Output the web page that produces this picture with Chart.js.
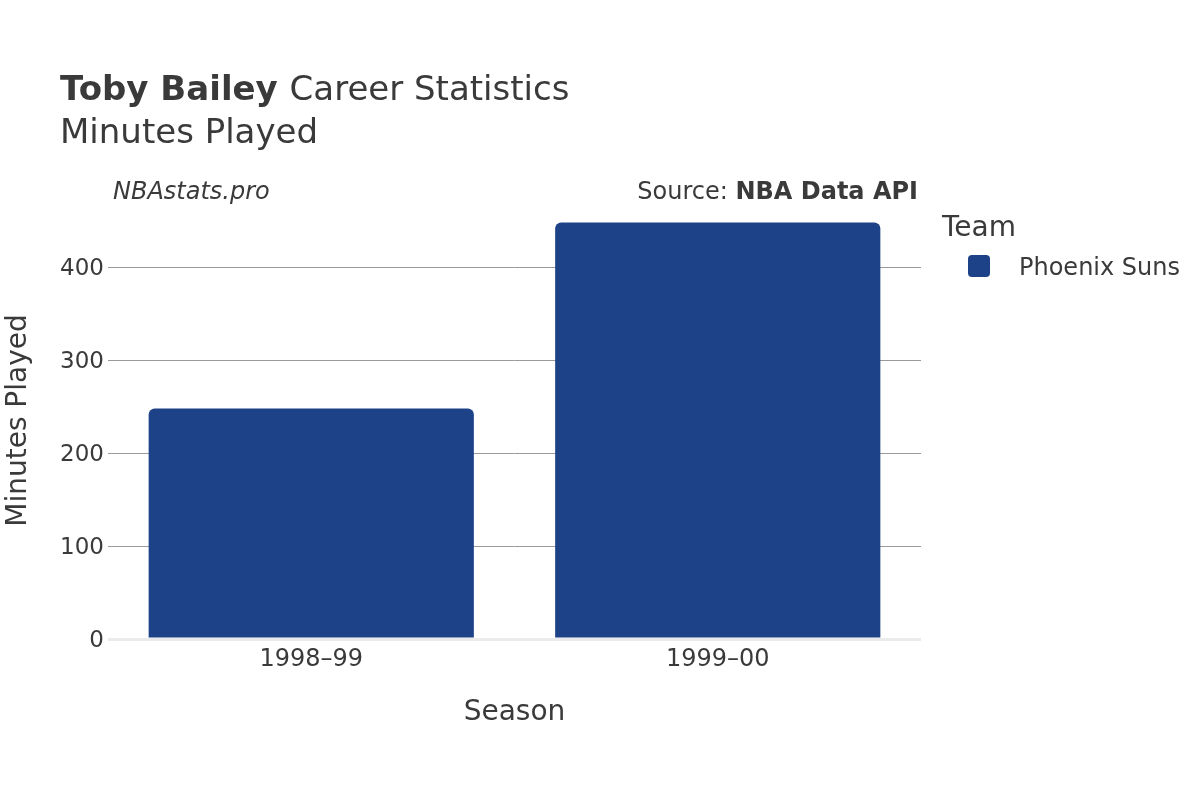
<!DOCTYPE html>
<html>
<head>
<meta charset="utf-8">
<script src="https://cdn.jsdelivr.net/npm/chart.js@4/dist/chart.umd.min.js"></script>
<style>
  html, body { margin: 0; padding: 0; background: #fff; }
  #wrap { width: 1200px; height: 800px; }
</style>
</head>
<body>
<div id="wrap"><canvas id="minutes-chart" width="1200" height="800"></canvas></div>
<script>
// Data
const seasons = ['1998–99', '1999–00'];
const minutesPlayed = [248, 448];
const teamName = 'Phoenix Suns';
const yTicks = [0, 100, 200, 300, 400];

const barColor = '#1d4288';
const textColor = '#3a3a3a';
const fontFamily = '"DejaVu Sans", sans-serif';

// Titles, credit line and legend drawn on top of the canvas
const headerPlugin = {
  id: 'header',
  afterDraw(chart) {
    const ctx = chart.ctx;
    ctx.save();
    ctx.fillStyle = textColor;
    ctx.textBaseline = 'alphabetic';
    ctx.textAlign = 'left';

    ctx.font = 'bold 34px ' + fontFamily;
    ctx.fillText('Toby Bailey', 60, 100);
    const w = ctx.measureText('Toby Bailey ').width;
    ctx.font = '34px ' + fontFamily;
    ctx.fillText('Career Statistics', 60 + w, 100);
    ctx.fillText('Minutes Played', 60, 143);

    ctx.font = 'italic 24px ' + fontFamily;
    ctx.fillText('NBAstats.pro', 113, 199);

    ctx.textAlign = 'right';
    ctx.font = 'bold 24px ' + fontFamily;
    ctx.fillText('NBA Data API', 918, 199);
    const bw = ctx.measureText('NBA Data API').width;
    ctx.font = '24px ' + fontFamily;
    ctx.fillText('Source: ', 918 - bw, 199);

    // legend
    ctx.textAlign = 'left';
    ctx.font = '28px ' + fontFamily;
    ctx.fillText('Team', 942, 236);
    const ds = chart.data.datasets[0];
    ctx.fillStyle = ds.backgroundColor;
    ctx.beginPath();
    ctx.roundRect(968, 255, 22, 22, 4);
    ctx.fill();
    ctx.fillStyle = textColor;
    ctx.font = '24px ' + fontFamily;
    ctx.fillText(ds.label, 1019, 275);
    ctx.restore();
  }
};

const ctxBar = document.getElementById('minutes-chart').getContext('2d');
const minutesChart = new Chart(ctxBar, {
  type: 'bar',
  data: {
    labels: seasons,
    datasets: [
      {
        label: teamName,
        data: minutesPlayed,
        backgroundColor: barColor,
        borderRadius: 6,
        borderSkipped: 'start',
        barPercentage: 0.8,
        categoryPercentage: 1.0,
      },
    ],
  },
  options: {
    responsive: false,
    animation: false,
    layout: {
      padding: { left: 0, right: 279, top: 202, bottom: 0 },
    },
    plugins: {
      legend: { display: false },
      tooltip: { enabled: false },
    },
    scales: {
      x: {
        grid: { display: false },
        border: { display: false },
        ticks: {
          color: textColor,
          font: { family: fontFamily, size: 24 },
          padding: -2,
        },
        title: {
          display: true,
          text: 'Season',
          color: textColor,
          font: { family: fontFamily, size: 28 },
          padding: { top: 0, bottom: 70 },
        },
        afterFit(scale) { scale.height = 161; },
      },
      y: {
        min: 0,
        max: 470,
        afterBuildTicks(scale) {
          scale.ticks = yTicks.map(v => ({ value: v }));
        },
        grid: {
          drawTicks: false,
          color: ctx => (ctx.tick && ctx.tick.value === 0 ? '#ebebeb' : '#9a9a9a'),
          lineWidth: ctx => (ctx.tick && ctx.tick.value === 0 ? 3 : 1),
        },
        border: { display: false },
        ticks: {
          color: textColor,
          font: { family: fontFamily, size: 23 },
          padding: 4,
          labelOffset: 2,
        },
        title: {
          display: true,
          text: 'Minutes Played',
          color: textColor,
          font: { family: fontFamily, size: 28 },
          padding: { top: 2, bottom: 0 },
        },
        afterFit(scale) { scale.width = 108; },
      },
    },
  },
  plugins: [headerPlugin],
});
</script>
</body>
</html>
